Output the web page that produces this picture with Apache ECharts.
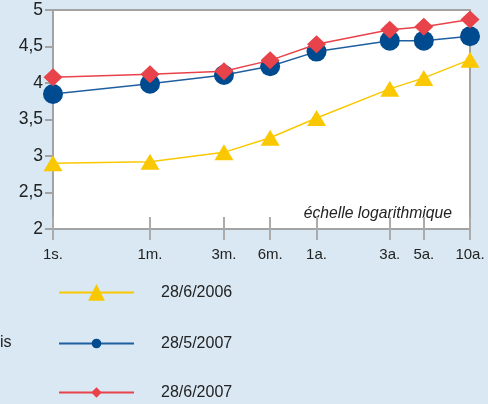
<!DOCTYPE html>
<html><head><meta charset="utf-8">
<script src="https://cdn.jsdelivr.net/npm/echarts@6/dist/echarts.min.js"></script>
<style>html,body{margin:0;padding:0;background:#d9e8f2}#c{width:488px;height:404px}</style>
</head><body><div id="c"></div>
<script>
// durations in days (log axis)
const tickDays = [7, 30, 91, 182, 365, 1095, 1825, 3650];
const tickLabels = ['1s.', '1m.', '3m.', '6m.', '1a.', '3a.', '5a.', '10a.'];
const seriesNames = ['28/6/2006', '28/5/2007', '28/6/2007'];
const s2006 = [2.90, 2.92, 3.05, 3.25, 3.52, 3.92, 4.07, 4.32];
const s2007May = [3.85, 3.99, 4.11, 4.23, 4.43, 4.58, 4.58, 4.64];
const s2007Jun = [4.08, 4.12, 4.16, 4.31, 4.53, 4.73, 4.77, 4.87];
const yTicks = {min: 2, max: 5, interval: 0.5};

const FF = '"Liberation Sans", Arial, sans-serif';
function pts(arr){ return arr.map((v,i)=>[tickDays[i], v]); }
function lab(v){ let k = 0, best = 1e9; tickDays.forEach((d,i)=>{ const e = Math.abs(Math.log(d)-Math.log(v)); if(e<best){best=e;k=i;} }); return tickLabels[k]; }
const chart = echarts.init(document.getElementById('c'));
const xBase = {
  type: 'log', logBase: 10, min: 7, max: 3650, position: 'bottom',
  splitLine: {show: false}, minorTick: {show: false}, minorSplitLine: {show: false}
};
const legendCommon = {
  orient: 'vertical', left: 58, itemWidth: 75, padding: 0,
  textStyle: {color: '#222', fontSize: 16, fontFamily: FF, padding: [0,0,0,22]}
};
chart.setOption({
  backgroundColor: '#d9e8f2',
  animation: false,
  grid: {left: 53, right: 18, top: 10, bottom: 175, show: true, backgroundColor: '#ffffff', borderColor: '#a3a3a3', borderWidth: 2},
  xAxis: [
    Object.assign({}, xBase, {
      axisLine: {show: true, lineStyle: {color: '#a3a3a3', width: 2}},
      axisTick: {show: false},
      axisLabel: {show: true, customValues: tickDays, color: '#222', fontSize: 15, fontFamily: FF, margin: 18, formatter: lab}
    }),
    Object.assign({}, xBase, {
      offset: 11,
      axisLine: {show: false},
      axisTick: {show: true, inside: true, length: 23, lineStyle: {color: '#ababab', width: 2}, customValues: tickDays},
      axisLabel: {show: false}
    })
  ],
  yAxis: {
    type: 'value', min: yTicks.min, max: yTicks.max, interval: yTicks.interval,
    axisLine: {show: true, lineStyle: {color: '#a3a3a3', width: 2}},
    axisTick: {show: true, length: 8, lineStyle: {color: '#a3a3a3', width: 2}},
    splitLine: {show: false},
    axisLabel: {color: '#222', fontSize: 17.5, fontFamily: FF, margin: 10, formatter: v => String(v).replace('.', ',')}
  },
  legend: [
    Object.assign({}, legendCommon, {top: 284, itemHeight: 21, data: [seriesNames[0]]}),
    Object.assign({}, legendCommon, {top: 335.5, itemHeight: 12, data: [seriesNames[1]]}),
    Object.assign({}, legendCommon, {top: 384.5, itemHeight: 13, data: [seriesNames[2]]})
  ],
  graphic: [
    {type: 'text', left: 0, top: 335, style: {text: 'is', fill: '#222', font: '16px ' + FF}},
    {type: 'text', right: 36, top: 206, style: {text: 'échelle logarithmique', fill: '#222', font: 'italic 15.7px ' + FF}}
  ],
  series: [
    {name: seriesNames[0], type: 'line', data: pts(s2006), symbol: 'triangle', symbolSize: [19, 16],
      itemStyle: {color: '#fac800'}, lineStyle: {color: '#fac800', width: 1.5}, z: 3},
    {name: seriesNames[1], type: 'line', data: pts(s2007May), symbol: 'circle', symbolSize: 20,
      itemStyle: {color: '#004a8f'}, lineStyle: {color: '#1f5f9f', width: 1.5}, z: 4},
    {name: seriesNames[2], type: 'line', data: pts(s2007Jun), symbol: 'diamond', symbolSize: [19, 18],
      itemStyle: {color: '#e8424a'}, lineStyle: {color: '#e8424a', width: 1.5}, z: 5}
  ]
});
</script></body></html>
